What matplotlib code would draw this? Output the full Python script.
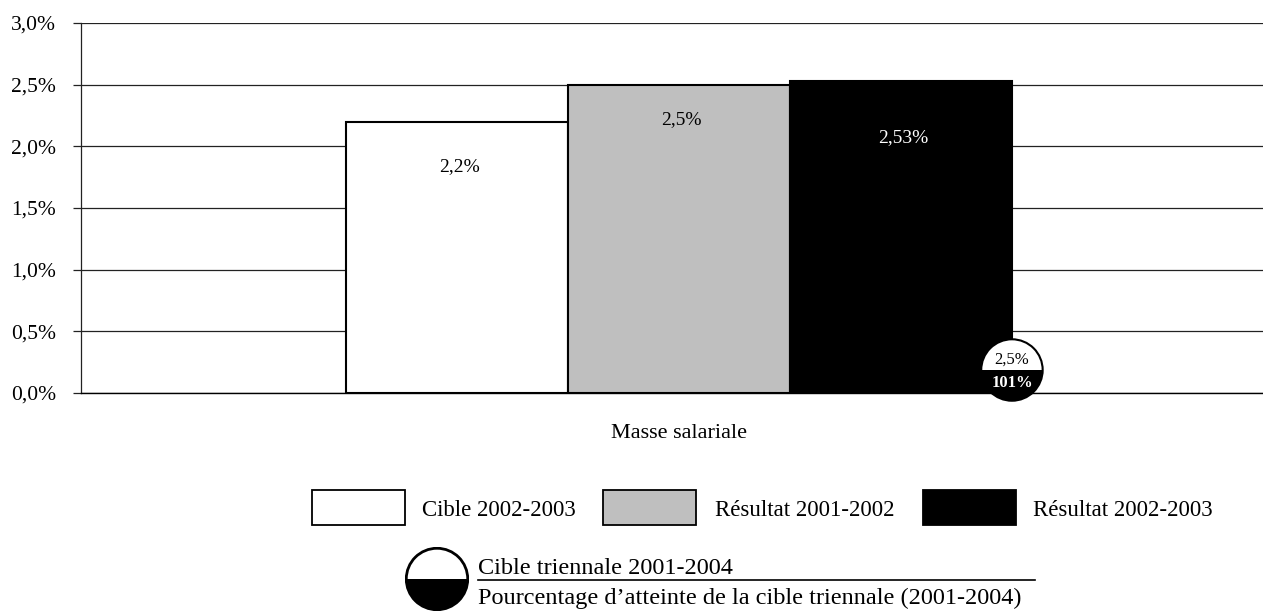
import matplotlib
matplotlib.use("Agg")
import matplotlib.pyplot as plt
from matplotlib.patches import Wedge, Circle, Rectangle
from matplotlib.lines import Line2D

plt.rcParams['font.family'] = ['Liberation Serif', 'DejaVu Serif']

# ---- data ----
category = "Masse salariale"
series_names = ["Cible 2002-2003", "Résultat 2001-2002", "Résultat 2002-2003"]
series_values = [2.2, 2.5, 2.53]
value_labels = ["2,2%", "2,5%", "2,53%"]
series_colors = ["#ffffff", "#bfbfbf", "#000000"]
label_colors = ["#000000", "#000000", "#ffffff"]
label_offsets_px = [45, 35, 57]   # label distance below bar top
target_label = "2,5%"
attainment_label = "101%"
yticks = [0.0, 0.5, 1.0, 1.5, 2.0, 2.5, 3.0]
ytick_labels = ["0,0%", "0,5%", "1,0%", "1,5%", "2,0%", "2,5%", "3,0%"]
legend_circle_top = "Cible triennale 2001-2004"
legend_circle_bottom = "Pourcentage d’atteinte de la cible triennale (2001-2004)"

W, H = 1263, 611
fig = plt.figure(figsize=(W / 100, H / 100), dpi=100)

def fx(px):
    return px / W

def fy(py):
    return (H - py) / H

ax = fig.add_axes([fx(81), fy(393), fx(1263 - 81), 370 / H])
ax.set_ylim(0, 3)
ax.set_xlim(-2.694, 2.631)

width = 1.0
n = len(series_values)
for i, (v, c) in enumerate(zip(series_values, series_colors)):
    xpos = (i - (n - 1) / 2) * width
    ax.bar(xpos, v, width=width, color=c, edgecolor="black", linewidth=1.5, zorder=3)
    ax.annotate(value_labels[i], (xpos, v), xytext=(2, -label_offsets_px[i] * 0.72),
                textcoords="offset points", ha="center", va="center",
                fontsize=14, color=label_colors[i], zorder=4)

ax.set_yticks(yticks)
ax.set_yticklabels(ytick_labels, fontsize=15.5)
ax.yaxis.grid(True, color="#222222", linewidth=0.9, zorder=0)
ax.set_axisbelow(True)
ax.tick_params(axis="y", length=6, width=0.9, pad=12, color="#222222")
ax.set_xticks([0])
ax.set_xticklabels([category], fontsize=16)
ax.tick_params(axis="x", length=0, pad=22)
for s in ["top", "right"]:
    ax.spines[s].set_visible(False)
ax.spines["left"].set_linewidth(0.9)
ax.spines["left"].set_color("#222222")
ax.spines["bottom"].set_linewidth(1.0)

# ---- target circle marker at the right edge of the last bar ----
fig.canvas.draw()
last_x = (n - 1 - (n - 1) / 2) * width + width / 2
px_x, px_y0 = ax.transData.transform((last_x, 0))
cx_pix = px_x
cy_pix = px_y0 + 23  # display coords (from bottom)
r = 32
cax = fig.add_axes([(cx_pix - r) / W, (cy_pix - r) / H, 2 * r / W, 2 * r / H])
cax.set_xlim(-1, 1)
cax.set_ylim(-1, 1)
cax.axis("off")
cax.add_patch(Wedge((0, 0), 0.96, 0, 180, facecolor="white", edgecolor="none"))
cax.add_patch(Wedge((0, 0), 0.96, 180, 360, facecolor="black", edgecolor="none"))
cax.add_patch(Circle((0, 0), 0.96, facecolor="none", edgecolor="black", linewidth=1.5))
cax.text(0, 0.33, target_label, ha="center", va="center", fontsize=12, color="black")
cax.text(0, -0.42, attainment_label, ha="center", va="center", fontsize=12,
         color="white", fontweight="bold")

# ---- legend ----
boxes_x = [312, 603, 923]
box_w = 93
box_h = 35
box_top = 490
text_x = [422, 715, 1033]
for i in range(n):
    fig.patches.append(Rectangle((fx(boxes_x[i]), fy(box_top + box_h)), box_w / W, box_h / H,
                                 transform=fig.transFigure, facecolor=series_colors[i],
                                 edgecolor="black", linewidth=1.3))
    fig.text(fx(text_x[i]), fy(510), series_names[i], ha="left", va="center", fontsize=16.5)

# circle legend
lr = 32
lax = fig.add_axes([fx(437 - lr), fy(579 + lr), 2 * lr / W, 2 * lr / H])
lax.set_xlim(-1, 1)
lax.set_ylim(-1, 1)
lax.axis("off")
lax.add_patch(Wedge((0, 0), 0.96, 0, 180, facecolor="white", edgecolor="none"))
lax.add_patch(Wedge((0, 0), 0.96, 180, 360, facecolor="black", edgecolor="none"))
lax.add_patch(Circle((0, 0), 0.96, facecolor="none", edgecolor="black", linewidth=2))

fig.text(fx(478), fy(569), legend_circle_top, ha="left", va="center", fontsize=17.5)
fig.lines.append(Line2D([fx(478), fx(1035)], [fy(580), fy(580)], transform=fig.transFigure,
                        color="black", linewidth=1.2))
fig.text(fx(478), fy(598), legend_circle_bottom, ha="left", va="center", fontsize=17.5)

fig.savefig("out.png", dpi=100)
